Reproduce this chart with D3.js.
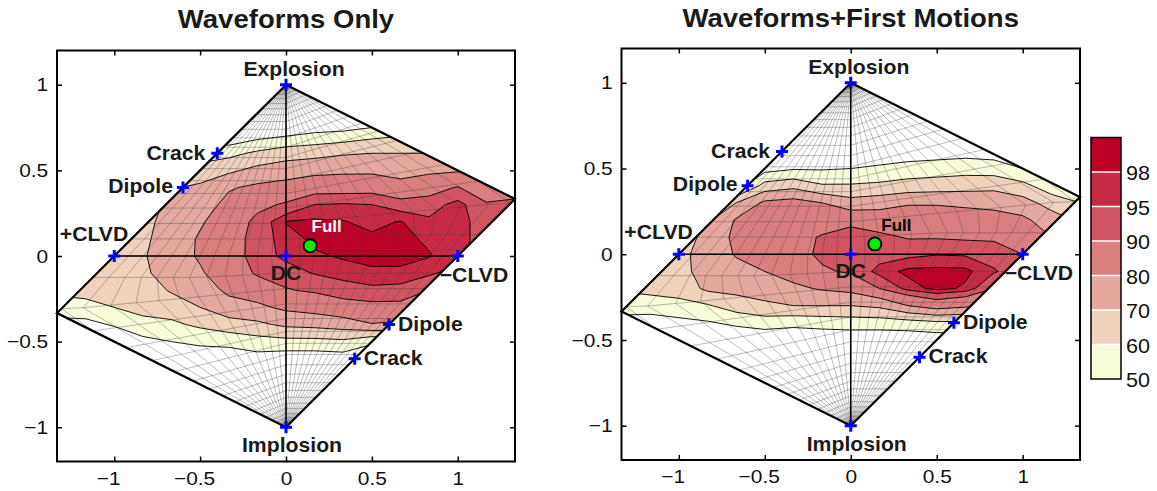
<!DOCTYPE html>
<html>
<head>
<meta charset="utf-8">
<script src="https://cdn.jsdelivr.net/npm/d3@7"></script>
<style>
  body { margin: 0; background: #fff; }
  svg { display: block; }
  text { font-family: "Liberation Sans", Arial, Helvetica, sans-serif; }
</style>
</head>
<body>
<svg id="chart" width="1157" height="491"></svg>
<script>
// ---- contour levels and band colours (percent fit) ----
const levels = [50, 60, 70, 80, 90, 95, 98];
const bandColors = ["#f8fcda", "#eed2bc", "#e4a89e", "#da7e80", "#d15462", "#c72a44", "#bd0026"];

// ---- sample grid on the source-type plane (Hudson u, v) ----
const gridX = [-1.3333, -1.1667, -1, -0.8333, -0.6667, -0.5, -0.3333, -0.1667, 0,
               0.1667, 0.3333, 0.5, 0.6667, 0.8333, 1, 1.1667, 1.3333];
const gridY = [1, 0.9, 0.8, 0.7, 0.6, 0.5, 0.4, 0.3, 0.2, 0.1, 0,
               -0.1, -0.2, -0.3, -0.4, -0.5, -0.6, -0.7, -0.8, -0.9, -1];

// fit (%) for waveforms only; one row per gridY value, one column per gridX value
const fitWaveforms = [
  [40,40,38,35,30,28,26,26,25,25,24,22,20,20,20,20,20],
  [45,45,43,40,36,33,30,30,30,30,28,28,30,30,30,30,30],
  [50,50,48,45,42,40,35,35,38,38,38,42,48,45,45,45,45],
  [55,55,53,50,48,48,42,47,50,53,55,58,60,62,60,58,56],
  [58,58,57,55,55,55,57,62,66,67,69,70,70,70,70,68,66],
  [60,61,60,59,61,64,68,73,75,77,78,78,76,78,79,76,75],
  [62,63,63,63,69,72,79,82,84,87,87,87.5,84,87,90.5,84,85],
  [64,65,65,66,72,75,83,88,91,95,95.5,95,93,93,96.5,91,92.5],
  [65,66,66,67,74,79,85,92,98.2,98.6,98.2,97,98.2,95.8,96.5,93,91],
  [66,67,67,68,75,81,86,93,96.5,98.8,98.8,98.7,98.8,97.5,96.5,93,91],
  [66,67,66,69,76,81,86,93,96,97.5,98.4,98.8,98.6,98.2,96.5,92,90],
  [65,66,65,68,75,79,85,91,93,95.3,96.5,97.5,97.6,95.8,93,89,87],
  [62,64,63,65,71,75,82,85,89.5,91,93,94,93.5,90,88,85,83],
  [56,56,60,63,65,70,76,78,82,84,87,88,88,84,82,80,78],
  [46,47,51,57,58,62,66,68,72,73,75,79.5,78,76,74,72,70],
  [38,38,42,47,50,52,53,56,57,57,58,52,55,60,60,60,58],
  [33,33,35,40,42,44,44,46,44,44,45,40,42,46,48,48,48],
  [30,30,31,35,35,38,38,40,38,38,38,36,36,38,40,40,40],
  [28,28,28,31,31,33,33,35,34,34,33,32,32,33,34,34,34],
  [26,26,26,28,28,30,30,31,30,30,30,29,29,30,30,30,30],
  [25,25,25,26,26,27,27,28,27,27,27,27,27,27,27,27,27]
];

// fit (%) for waveforms plus first motions
const fitWaveformsFM = [
  [20,20,20,20,20,20,20,22,22,22,22,22,22,22,22,22,22],
  [22,22,22,22,22,22,23,25,25,25,25,25,25,25,25,25,25],
  [24,24,24,25,25,25,26,28,28,28,29,29,29,30,30,29,28],
  [26,26,27,28,28,29,30,32,32,33,35,36,38,38,36,34,32],
  [28,29,30,32,33,37,38,40,40,42,44,45,46,45,43,40,37],
  [31,32,34,37,40,46,49,49,50,52,54,55,56,55,50,46,43],
  [36,38,40,45,44,64,67,61,61,62,64,65,66,67,63,54,50],
  [43,46,50,58,70,82,84,80,74,76,79,79,78,77,74,66,60],
  [51,54,58,68,81,85,86,87,88,86,86,86,85,84,82,75,68],
  [57,60,63,74,82,86,88,90.5,93,91.5,89.5,89.5,89,89,87,80,74],
  [61,64,66,76,80.5,83,87,91.5,93.5,93,94,94.8,94.6,93,90,83,78],
  [63,65,66,75,78,80,84,89,91,96.5,98.8,99,98.8,95.5,92,84,80],
  [61,63,64,72,73,75,78,81,83,90,96.5,99,97.5,90,88,82,79],
  [56,55,57,59,65,68,70,70,70,72,80,85,82,80,78,75,73],
  [45,45,47,49,52,55,53,54,55,55,56,58,58,62,62,62,62],
  [37,38,39,40,42,42,42,43,43,43,43,44,44,48,48,48,48],
  [32,33,34,35,36,36,36,37,37,37,37,38,38,40,40,40,40],
  [29,30,31,31,32,32,32,33,33,33,33,33,33,35,35,35,35],
  [27,28,28,28,29,29,29,30,30,30,30,30,30,31,31,31,31],
  [26,26,26,26,27,27,27,28,28,28,28,28,28,28,28,28,28],
  [25,25,25,25,25,25,25,26,26,26,26,26,26,26,26,26,26]
];

// ---- parameter mesh (T, k) drawn over the plane ----
const meshT = [-1, -0.9167, -0.8333, -0.75, -0.6667, -0.5833, -0.5, -0.4167, -0.3333, -0.25, -0.1667, -0.0833, 0,
               0.0833, 0.1667, 0.25, 0.3333, 0.4167, 0.5, 0.5833, 0.6667, 0.75, 0.8333, 0.9167, 1];
const meshK = [-1, -0.97, -0.945, -0.92, -0.89, -0.86, -0.825, -0.785, -0.74, -0.69, -0.635,
               -0.575, -0.51, -0.44, -0.365, -0.28, -0.19, -0.1, 0,
               0.1, 0.19, 0.28, 0.365, 0.44, 0.51, 0.575, 0.635, 0.69, 0.74, 0.785, 0.825, 0.86, 0.89,
               0.92, 0.945, 0.97, 1];

// ---- reference source types and the full moment tensor solution ----
const sourceTypes = [
  { name: "Explosion", u: 0, v: 1 },
  { name: "Implosion", u: 0, v: -1 },
  { name: "+CLVD", u: -1, v: 0 },
  { name: "\u2212CLVD", u: 1, v: 0 },
  { name: "DC", u: 0, v: 0 },
  { name: "Crack", u: -0.4, v: 0.6 },
  { name: "Dipole", u: -0.6, v: 0.4 },
  { name: "Dipole", u: 0.6, v: -0.4 },
  { name: "Crack", u: 0.4, v: -0.6 }
];
const fullSolution = { name: "Full", u: 0.14, v: 0.06 };

const xTicks = [-1, -0.5, 0, 0.5, 1];
const yTicks = [-1, -0.5, 0, 0.5, 1];
const colorbarLabels = [50, 60, 70, 80, 90, 95, 98];

// ---- layout ----
const labelLayout = [
  { anchor: "middle", dx: 8, dy: -9 },
  { anchor: "middle", dx: 6, dy: 25 },
  { anchor: "end", dx: 14, dy: -15 },
  { anchor: "start", dx: -18, dy: 25.5 },
  { anchor: "middle", dx: 0, dy: 24 },
  { anchor: "end", dx: -12, dy: 7 },
  { anchor: "end", dx: -10, dy: 5 },
  { anchor: "start", dx: 9, dy: 6 },
  { anchor: "start", dx: 9, dy: 6 }
];
const panels = [
  { title: "Waveforms Only", values: fitWaveforms, left: 57, right: 515, top: 50.5, bottom: 461.5,
    fullFill: "#ffffff", fullDx: 1.5, fullDy: -14, titleY: 28 },
  { title: "Waveforms+First Motions", values: fitWaveformsFM, left: 621.5, right: 1080, top: 48.5, bottom: 460,
    fullFill: "#000000", fullDx: 6.5, fullDy: -12.5, titleY: 27 }
];
const STRETCH = 1.06;

// Hudson skewed projection of (T, k)
function skew(tau, k) {
  if (tau < 4 * k) { const d = 1 - tau / 2; return [tau / d, k / d]; }
  const d = 1 - 2 * k; return [tau / d, k / d];
}
function hudson(T, k) {
  const tau = T * (1 - Math.abs(k));
  if (tau > 0 && k > 0) return skew(tau, k);
  if (tau < 0 && k < 0) { const p = skew(-tau, -k); return [-p[0], -p[1]]; }
  return [tau, k];
}

const svg = d3.select("#chart");
const diamond = [[0, 1], [4 / 3, 1 / 3], [0, -1], [-4 / 3, -1 / 3]];

panels.forEach((P, pi) => {
  const xs = d3.scaleLinear().domain([-4 / 3, 4 / 3]).range([P.left, P.right]);
  const ys = d3.scaleLinear().domain([-1.2, 1.2]).range([P.bottom, P.top]);
  const g = svg.append("g");
  const line = d3.line().x(d => xs(d[0])).y(d => ys(d[1]));

  // clip to the source-type diamond
  const clipId = "diamond" + pi;
  svg.append("clipPath").attr("id", clipId)
    .append("path").attr("d", line(diamond) + "Z");

  // filled contours
  const n = gridX.length, m = gridY.length;
  const gxs = d3.scaleLinear().domain([0.5, n - 0.5]).range([gridX[0], gridX[n - 1]]);
  const gys = d3.scaleLinear().domain([0.5, m - 0.5]).range([gridY[0], gridY[m - 1]]);
  const proj = d3.geoTransform({
    point(x, y) { this.stream.point(xs(gxs(x)), ys(gys(y))); }
  });
  const path = d3.geoPath(proj);
  const contours = d3.contours().size([n, m]).thresholds(levels)(P.values.flat());

  const cg = g.append("g").attr("clip-path", `url(#${clipId})`);
  cg.selectAll("path.band").data(contours).join("path")
    .attr("class", "band")
    .attr("d", path)
    .attr("fill", (d, i) => bandColors[i])
    .attr("stroke", "none");

  // parameter mesh
  const mg = cg.append("g").attr("fill", "none").attr("stroke", "#3a3a3a")
    .attr("stroke-opacity", 0.45).attr("stroke-width", 0.75);
  meshT.forEach(T => {
    mg.append("path").attr("d", line(meshK.map(k => hudson(T, k))));
  });
  meshK.filter(k => Math.abs(k) < 1).forEach(k => {
    mg.append("path").attr("d", line(meshT.map(T => hudson(T, k))));
  });

  // contour lines
  cg.selectAll("path.iso").data(contours).join("path")
    .attr("class", "iso")
    .attr("d", path)
    .attr("fill", "none")
    .attr("stroke", "#000")
    .attr("stroke-width", 0.9)
    .attr("stroke-linejoin", "round");

  // axes of the plot: E-I and +CLVD/-CLVD
  g.append("path").attr("d", line([[0, 1], [0, -1]])).attr("stroke", "#000").attr("stroke-width", 1.6);
  g.append("path").attr("d", line([[-1, 0], [1, 0]])).attr("stroke", "#000").attr("stroke-width", 1.6);
  // diamond outline
  g.append("path").attr("d", line(diamond) + "Z").attr("fill", "none")
    .attr("stroke", "#000").attr("stroke-width", 2.2).attr("stroke-linejoin", "miter");

  // frame and ticks
  g.append("rect").attr("x", P.left).attr("y", P.top)
    .attr("width", P.right - P.left).attr("height", P.bottom - P.top)
    .attr("fill", "none").attr("stroke", "#000").attr("stroke-width", 2);

  const fmt = d3.format("");
  const ax = g.append("g").attr("transform", `translate(0,${P.bottom})`)
    .call(d3.axisBottom(xs).tickValues(xTicks).tickSizeInner(-5).tickSizeOuter(0).tickPadding(10).tickFormat(fmt));
  g.append("g").attr("transform", `translate(0,${P.top})`)
    .call(d3.axisTop(xs).tickValues(xTicks).tickSizeInner(-5).tickSizeOuter(0).tickFormat(""));
  const ay = g.append("g").attr("transform", `translate(${P.left},0)`)
    .call(d3.axisLeft(ys).tickValues(yTicks).tickSizeInner(-5).tickSizeOuter(0).tickPadding(8).tickFormat(fmt));
  g.append("g").attr("transform", `translate(${P.right},0)`)
    .call(d3.axisRight(ys).tickValues(yTicks).tickSizeInner(-5).tickSizeOuter(0).tickFormat(""));
  g.selectAll(".domain").remove();
  g.selectAll(".tick line").attr("stroke", "#000").attr("stroke-width", 1.5);
  [ax, ay].forEach(a => a.selectAll("text")
    .attr("font-family", '"Liberation Sans", Arial, sans-serif')
    .attr("font-size", 19).attr("fill", "#111")
    .attr("transform", "scale(1.1,1)"));
  ax.selectAll("text").attr("dx", d => d < 0 ? -5.5 : 0);

  // title
  g.append("text").attr("transform", `translate(${(P.left + P.right) / 2},${P.titleY}) scale(${STRETCH},1)`)
    .attr("text-anchor", "middle").attr("font-weight", "bold").attr("font-size", 26)
    .attr("fill", "#1a1a1a").text(P.title);

  // source type markers and labels
  sourceTypes.forEach((s, i) => {
    const px = xs(s.u), py = ys(s.v), L = labelLayout[i];
    g.append("path").attr("d", `M${px - 6},${py}H${px + 6}M${px},${py - 6}V${py + 6}`)
      .attr("stroke", "#0000ff").attr("stroke-width", 3);
    g.append("text").attr("transform", `translate(${px + L.dx},${py + L.dy}) scale(${STRETCH},1)`)
      .attr("text-anchor", L.anchor).attr("font-weight", "bold").attr("font-size", 20)
      .attr("fill", "#1a1a1a").text(s.name);
  });

  // full solution
  const fx = xs(fullSolution.u), fy = ys(fullSolution.v);
  g.append("circle").attr("cx", fx).attr("cy", fy).attr("r", 6.5)
    .attr("fill", "#00ee00").attr("stroke", "#000").attr("stroke-width", 1.8);
  g.append("text").attr("transform", `translate(${fx + P.fullDx},${fy + P.fullDy}) scale(${STRETCH},1)`)
    .attr("font-weight", "bold").attr("font-size", 16).attr("fill", P.fullFill).text(fullSolution.name);
});

// ---- colour bar ----
const cb = svg.append("g");
const cbx = 1091, cbw = 30;
const cby = d3.scaleLinear().domain([0, bandColors.length]).range([379, 137.5]);
cb.selectAll("rect.band").data(bandColors).join("rect")
  .attr("class", "band")
  .attr("x", cbx).attr("width", cbw)
  .attr("y", (d, i) => cby(i + 1)).attr("height", (d, i) => cby(i) - cby(i + 1))
  .attr("fill", d => d);
cb.selectAll("line.sep").data(d3.range(1, bandColors.length)).join("line")
  .attr("class", "sep")
  .attr("x1", cbx).attr("x2", cbx + cbw)
  .attr("y1", d => cby(d)).attr("y2", d => cby(d))
  .attr("stroke", "#fff").attr("stroke-width", 1.5);
cb.append("rect").attr("x", cbx).attr("y", cby(bandColors.length)).attr("width", cbw)
  .attr("height", cby(0) - cby(bandColors.length))
  .attr("fill", "none").attr("stroke", "#000").attr("stroke-width", 1.5);
cb.selectAll("text").data(colorbarLabels).join("text")
  .attr("transform", (d, i) => `translate(${cbx + cbw + 5},${cby(i) + 8}) scale(1.08,1)`)
  .attr("font-size", 20).attr("fill", "#111").text(d => d);
</script>
</body>
</html>
